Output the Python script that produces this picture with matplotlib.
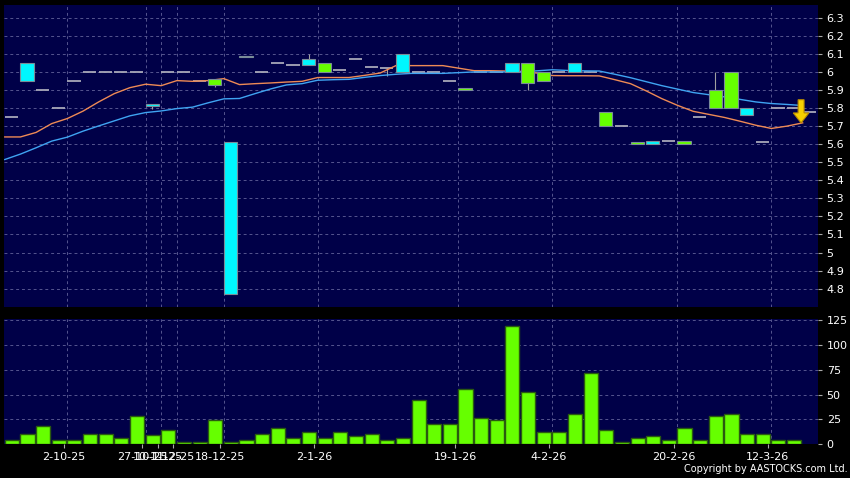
import numpy as np
import matplotlib.pyplot as plt
from matplotlib.patches import Polygon

# ---- data (one slot per trading day) ----
opens = [5.75, 5.95, 5.90, 5.80, 5.95, 6.00, 6.00, 6.00, 6.00, 5.81,
         6.00, 6.00, 5.95, 5.96, 4.77, 6.09, 6.00, 6.05, 6.04, 6.04,
         6.05, 6.01, 6.07, 6.03, 6.02, 6.00, 6.00, 6.00, 5.95, 5.91,
         6.00, 6.00, 6.00, 6.05, 6.00, 6.00, 6.00, 6.00, 5.78, 5.70,
         5.61, 5.60, 5.62, 5.62, 5.75, 5.90, 6.00, 5.76, 5.61, 5.80,
         5.80, 5.78]
closes = [5.75, 6.05, 5.90, 5.80, 5.95, 6.00, 6.00, 6.00, 6.00, 5.82,
          6.00, 6.00, 5.95, 5.93, 5.61, 6.08, 6.00, 6.05, 6.04, 6.07,
          6.00, 6.01, 6.07, 6.03, 6.02, 6.10, 6.00, 6.00, 5.95, 5.90,
          6.00, 6.00, 6.05, 5.94, 5.95, 6.00, 6.05, 6.00, 5.70, 5.70,
          5.60, 5.62, 5.62, 5.60, 5.75, 5.80, 5.80, 5.80, 5.61, 5.80,
          5.80, 5.78]
highs = list(np.maximum(opens, closes))
lows = list(np.minimum(opens, closes))
highs[19] = 6.10
highs[45] = 6.00
lows[9] = 5.795
lows[13] = 5.915
lows[24] = 5.98
lows[33] = 5.90

volumes = [4, 10, 18, 4, 4, 10, 10, 6, 28, 9,
           14, 2, 2, 24, 2, 4, 10, 16, 6, 12,
           6, 12, 8, 10, 4, 6, 45, 20, 20, 56,
           26, 24, 119, 53, 12, 12, 30, 72, 14, 2,
           6, 8, 4, 16, 4, 28, 30, 10, 10, 4, 4]

ma_orange = [5.640, 5.640, 5.665, 5.714, 5.742, 5.783, 5.834, 5.880, 5.913, 5.932,
             5.924, 5.952, 5.948, 5.952, 5.963, 5.930, 5.935, 5.939, 5.944, 5.948,
             5.969, 5.969, 5.969, 5.981, 5.994, 6.035, 6.035, 6.035, 6.035, 6.021,
             6.007, 6.007, 6.005, 6.003, 5.994, 5.980, 5.979, 5.979, 5.978, 5.957,
             5.935, 5.895, 5.852, 5.815, 5.782, 5.765, 5.748, 5.727, 5.705, 5.687,
             5.700, 5.718]
ma_blue = [5.515, 5.545, 5.580, 5.617, 5.639, 5.672, 5.701, 5.729, 5.757, 5.775,
           5.784, 5.797, 5.805, 5.829, 5.851, 5.853, 5.880, 5.906, 5.928, 5.935,
           5.954, 5.957, 5.959, 5.970, 5.980, 5.987, 5.992, 5.992, 5.992, 5.996,
           6.000, 6.000, 6.000, 6.000, 6.006, 6.012, 6.008, 6.006, 6.005, 5.987,
           5.968, 5.946, 5.924, 5.905, 5.886, 5.874, 5.862, 5.848, 5.834, 5.825,
           5.820, 5.814]

date_pos = [4, 9, 10, 11, 14, 20, 29, 35, 43, 49]
date_labels = ["2-10-25", "27-10-25", "10-11-25", "1-12-25", "18-12-25",
               "2-1-26", "19-1-26", "4-2-26", "20-2-26", "12-3-26"]

price_ticks = np.round(np.arange(4.8, 6.31, 0.1), 1)
vol_ticks = [0, 25, 50, 75, 100, 125]

# ---- styling ----
BG = "#000048"
GRID = "#55558f"
CYAN = "#00f6ff"
GREEN = "#66ff00"
DOJI = "#a8a8b8"

fig = plt.figure(figsize=(8.5, 4.78), dpi=100, facecolor="black")
ax = fig.add_axes([4 / 850, 1 - 306.7 / 478, 814.3 / 850, 301.4 / 478])
axv = fig.add_axes([4 / 850, 1 - 444 / 478, 814.3 / 850, 125 / 478])

n = len(opens)
xs = np.arange(n)
w = 0.84

for a in (ax, axv):
    a.set_facecolor(BG)
    a.set_xlim(-0.05, 52)
    for s in a.spines.values():
        s.set_visible(False)
    a.set_axisbelow(True)
    for p in date_pos:
        a.axvline(p, color=GRID, lw=0.7, ls=(0, (3, 3)), zorder=0)
    a.yaxis.tick_right()
    a.tick_params(axis="y", colors="#aaaaaa", labelcolor="white", length=3,
                  width=0.8, labelsize=8, pad=3)
    a.grid(axis="y", color=GRID, lw=0.7, ls=(0, (3, 3)))

# price panel
ax.set_ylim(4.70, 6.369)
ax.set_yticks(price_ticks)
ax.set_yticklabels([f"{v:g}" for v in price_ticks])
ax.set_xticks([])

o = np.array(opens)
c = np.array(closes)
doji = o == c
body = ~doji

ax.vlines(xs + w / 2, lows, highs, color="#a0a0a0", lw=0.8, zorder=2)
ax.hlines(c[doji], xs[doji], xs[doji] + w, color=DOJI, lw=1.3, zorder=2)
ax.plot(xs, ma_orange, color="#ee8a55", lw=1.0, zorder=3)
ax.plot(xs, ma_blue, color="#3fa4f2", lw=1.0, zorder=3)
cols = np.where(c > o, CYAN, GREEN)
ax.bar(xs[body], (c - o)[body], bottom=o[body], width=w, align="edge",
       color=cols[body], edgecolor="#7a8c98", lw=0.8, zorder=4)

# down arrow at the end of the orange average
xa, ya = xs[-1] - 0.1, ma_orange[-1]
arrow = [(xa, ya), (xa - 0.5, ya + 0.055), (xa - 0.19, ya + 0.055),
         (xa - 0.19, ya + 0.128), (xa + 0.19, ya + 0.128),
         (xa + 0.19, ya + 0.055), (xa + 0.5, ya + 0.055)]
ax.add_patch(Polygon(arrow, closed=True, facecolor="#f6d000",
                     edgecolor="#b88a00", lw=0.8, zorder=5))

# volume panel
axv.set_ylim(0, 126.5)
axv.set_yticks(vol_ticks)
axv.bar(np.arange(len(volumes)), volumes, width=0.9, align="edge",
        color=GREEN, edgecolor="#2a5a10", lw=1.0, zorder=3)
axv.set_xticks(np.array(date_pos) - 0.22)
axv.set_xticklabels(date_labels)
axv.tick_params(axis="x", colors="#aaaaaa", labelcolor="white", length=3,
                width=0.8, labelsize=8, pad=3)

fig.text(0.997, 0.008, "Copyright by AASTOCKS.com Ltd.", color="white",
         fontsize=7, ha="right", va="bottom")

fig.savefig("out.png", dpi=100, facecolor="black")
